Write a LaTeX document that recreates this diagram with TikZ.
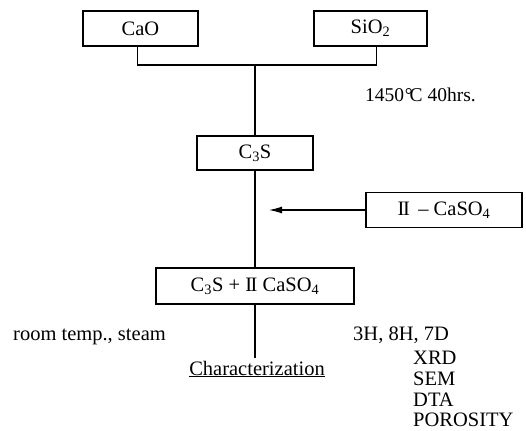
\documentclass[tikz,border=0pt]{standalone}
\usepackage{fontspec}
\setmainfont{Liberation Serif}
\usetikzlibrary{arrows.meta}
\newcommand{\romtwo}{I\kern-0.07em I}
\newcommand{\degc}{\kern0.03em°\kern-0.15em C}
\begin{document}
\begin{tikzpicture}[x=1pt,y=-1pt,
  every node/.style={font=\fontsize{20.5}{24}\selectfont, inner sep=0pt},
  box/.style={draw, line width=1.4pt, minimum height=35pt},
  conn/.style={line width=1.4pt},
  lbl/.style={anchor=base west}]
\useasboundingbox (0,0) rectangle (526,430);
\node[box, minimum width=115pt] (cao) at (140.5,28.5) {CaO};
\node[box, minimum width=113pt] (sio) at (370.5,28.5) {SiO\textsubscript{2}};
\coordinate (j) at (255,65);
\node[box, minimum width=116pt, minimum height=34pt] (c3s) at (255,153) {C\textsubscript{3}S};
\node[box, minimum width=156pt] (anh) at (444,210) {\romtwo\ \,-- CaSO\textsubscript{4}};
\node[box, minimum width=198pt, minimum height=36pt] (mix) at (255,286) {C\textsubscript{3}S + \romtwo\ CaSO\textsubscript{4}};
\node[anchor=base] (char) at (257,375) {\underline{Characterization}};
\coordinate (tip) at (269,210);
\draw[conn] ([xshift=-3pt]cao.south) |- (j) -| ([xshift=6pt]sio.south);
\draw[conn] (j) -- (c3s.north);
\draw[conn] (c3s.south) -- (mix.north);
\draw[conn] (mix.south) -- ([yshift=3pt]mix.south |- char.north);
\draw[line width=1.1pt, -{Latex[length=13pt,width=7pt]}] (anh.west) -- (tip);
\node[lbl, font=\fontsize{19.5}{23}\selectfont] (temp) at (365,102) {1450\degc\ 40hrs.};
\node[lbl] (room) at (13,340) {room temp., steam};
\node[lbl] (hrs) at (353,340) {3H, 8H, 7D};
\node[lbl] (xrd) at (413,364) {XRD};
\node[lbl] (sem) at (413,385) {SEM};
\node[lbl] (dta) at (413,406) {DTA};
\node[lbl] (por) at (413,426.5) {POROSITY};
\end{tikzpicture}
\end{document}
